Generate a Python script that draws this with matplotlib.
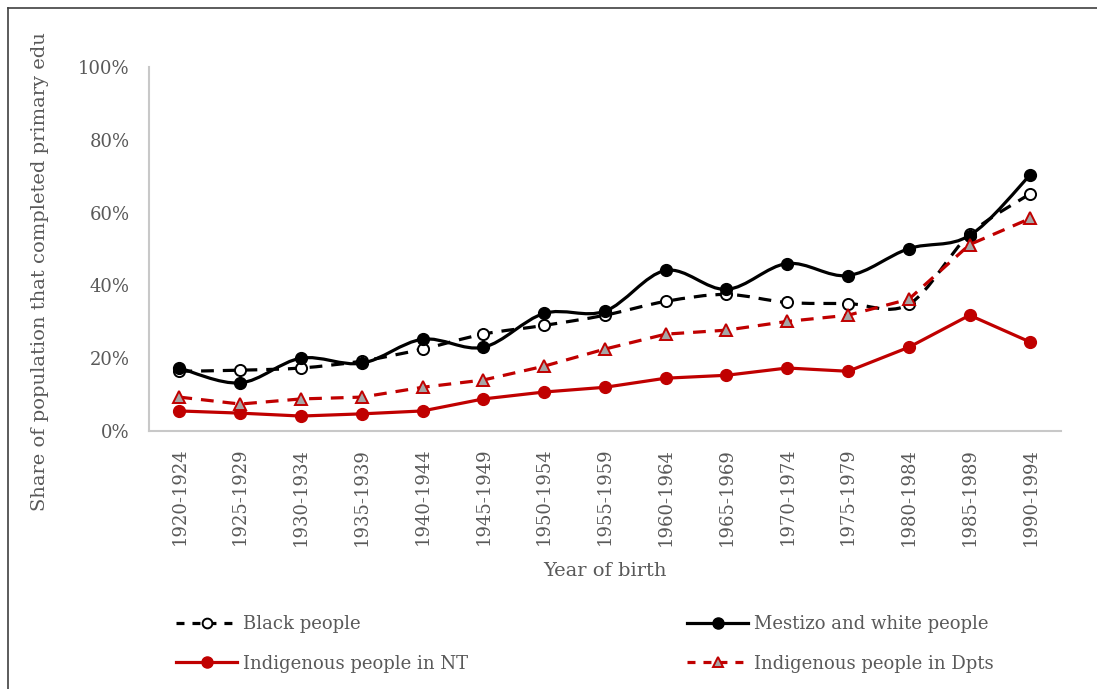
import matplotlib.pyplot as plt
import numpy as np
from matplotlib.path import Path
from matplotlib.patches import PathPatch
from matplotlib.lines import Line2D

# data
periods = ['1920-1924', '1925-1929', '1930-1934', '1935-1939', '1940-1944',
           '1945-1949', '1950-1954', '1955-1959', '1960-1964', '1965-1969',
           '1970-1974', '1975-1979', '1980-1984', '1985-1989', '1990-1994']
black = [0.164, 0.167, 0.173, 0.192, 0.225, 0.266, 0.290, 0.318, 0.356, 0.375,
         0.353, 0.350, 0.348, 0.540, 0.652]
mestizo = [0.173, 0.132, 0.200, 0.186, 0.252, 0.230, 0.323, 0.329, 0.441, 0.389,
           0.460, 0.427, 0.501, 0.537, 0.704]
indig_nt = [0.055, 0.049, 0.041, 0.047, 0.055, 0.088, 0.107, 0.120, 0.145, 0.153,
            0.173, 0.164, 0.230, 0.318, 0.244]
indig_dpts = [0.093, 0.074, 0.088, 0.093, 0.120, 0.140, 0.178, 0.225, 0.266, 0.277,
              0.301, 0.318, 0.362, 0.512, 0.584]

RED = '#c00000'
GREY_TXT = '#595959'
plt.rcParams['font.family'] = 'DejaVu Serif'


def smooth_path(y):
    # Excel-style smoothed line: cubic Bezier with Catmull-Rom control points
    pts = np.column_stack([np.arange(len(y)), y]).astype(float)
    verts = [pts[0]]
    codes = [Path.MOVETO]
    n = len(pts)
    for i in range(n - 1):
        p0 = pts[max(i - 1, 0)]
        p1 = pts[i]
        p2 = pts[i + 1]
        p3 = pts[min(i + 2, n - 1)]
        c1 = p1 + (p2 - p0) / 6
        c2 = p2 - (p3 - p1) / 6
        verts += [c1, c2, p2]
        codes += [Path.CURVE4] * 3
    return Path(verts, codes)


fig = plt.figure(figsize=(10.97, 6.89), dpi=100)
ax = fig.add_axes([0.1358, 0.3745, 0.8312, 0.5283])
x = np.arange(len(periods))

lw = 2.3
dash = (4.0, 2.8)
ax.add_patch(PathPatch(smooth_path(black), fill=False, color='black', lw=lw,
                       linestyle=(0, dash), zorder=3))
ax.plot(x, black, ls='none', marker='o', ms=8, mfc='white', mec='black', mew=1.4, zorder=4)

ax.add_patch(PathPatch(smooth_path(mestizo), fill=False, color='black', lw=lw, zorder=3))
ax.plot(x, mestizo, ls='none', marker='o', ms=8.5, mfc='black', mec='black', zorder=5)

ax.plot(x, indig_nt, color=RED, lw=lw, marker='o', ms=8.5, mfc=RED, mec=RED, zorder=3)
ax.plot(x, indig_dpts, color=RED, lw=lw, dashes=dash, marker='^', ms=8,
        mfc='#a6a6a6', mec=RED, mew=1.4, zorder=6)

ax.set_xlim(-0.5, len(periods) - 0.5)
ax.set_ylim(0, 1.0)
ax.set_yticks(np.arange(0, 1.01, 0.2))
ax.set_yticklabels([f'{int(round(v * 100))}%' for v in np.arange(0, 1.01, 0.2)])
ax.set_xticks(x)
ax.set_xticklabels(periods, rotation=90)
ax.tick_params(axis='both', length=0, labelsize=13, colors=GREY_TXT)
ax.tick_params(axis='y', pad=14)
ax.tick_params(axis='x', pad=12)
for s in ['top', 'right']:
    ax.spines[s].set_visible(False)
for s in ['left', 'bottom']:
    ax.spines[s].set_color('#c8c8c8')
    ax.spines[s].set_linewidth(1.5)

ax.set_xlabel('Year of birth', fontsize=14, color=GREY_TXT, labelpad=12)
fig.text(40 / 1097, 1 - 272 / 689, 'Share of population that completed primary edu',
         rotation=90, ha='center', va='center', fontsize=14, color=GREY_TXT)

# legend in two columns
h_black = Line2D([], [], color='black', lw=lw, dashes=(2.5, 2.5), marker='o', ms=7,
                 mfc='white', mec='black', mew=1.4)
h_mest = Line2D([], [], color='black', lw=lw, marker='o', ms=8, mfc='black')
h_nt = Line2D([], [], color=RED, lw=lw, marker='o', ms=8, mfc=RED, mec=RED)
h_dpts = Line2D([], [], color=RED, lw=lw, dashes=(2.5, 2.5), marker='^', ms=7,
                mfc='#a6a6a6', mec=RED, mew=1.4)
common = dict(loc='upper left', frameon=False, fontsize=13, handlelength=3.4,
              handletextpad=0.3, labelspacing=1.2, borderpad=0, borderaxespad=0,
              labelcolor=GREY_TXT)
leg1 = fig.legend([h_black, h_nt], ['Black people', 'Indigenous people in NT'],
                  bbox_to_anchor=(176 / 1097, 1 - 615 / 689), **common)
leg2 = fig.legend([h_mest, h_dpts], ['Mestizo and white people', 'Indigenous people in Dpts'],
                  bbox_to_anchor=(687 / 1097, 1 - 615 / 689), **common)

# outer chart border (cut by the image on the right and bottom)
fig.add_artist(Line2D([8 / 1097, 8 / 1097], [0, 1 - 8 / 689], transform=fig.transFigure,
                      color='#404040', lw=1.2))
fig.add_artist(Line2D([8 / 1097, 1], [1 - 8 / 689, 1 - 8 / 689], transform=fig.transFigure,
                      color='#404040', lw=1.2))

fig.savefig('out.png', dpi=100)
